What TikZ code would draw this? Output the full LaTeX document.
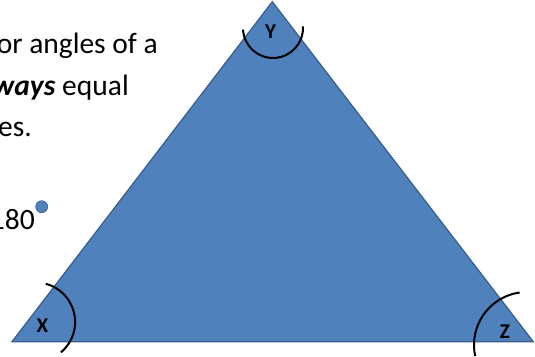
\documentclass[tikz,border=0pt]{standalone}
\usepackage{fontspec}
\setmainfont{Carlito}
\definecolor{triFill}{HTML}{4F81BD}
\definecolor{triEdge}{HTML}{385D8A}
\begin{document}
\begin{tikzpicture}[x=1pt,y=1pt,
  bodytext/.style={anchor=base east, inner sep=0pt, font=\fontsize{29.5}{36}\selectfont, text=black},
  anglelabel/.style={anchor=center, inner sep=0pt, font=\fontsize{21}{25}\selectfont\bfseries, text=black},
  anglearc/.style={draw=black, line width=2pt},
  tri/.style={fill=triFill, draw=triEdge, line width=1.2pt, line join=miter}]
\useasboundingbox (0,0) rectangle (535,356);
\clip (0,0) rectangle (535,356);
% text
\node[bodytext] (t1) at (158,302.7) {or angles of a};
\node[bodytext] (t2) at (129,260.5) {\textbf{\textit{ways}} equal};
\node[bodytext] (t3) at (32,219) {es.};
\node[bodytext] (t4) at (35,126) {180};
\node[circle, minimum size=12pt, inner sep=0pt, fill=triFill, draw=triEdge, line width=0.6pt] (deg) at (41.7,149.3) {};
% triangle
\coordinate (A) at (272.3,354.3);
\coordinate (B) at (12,14.3);
\coordinate (C) at (533.3,14.3);
\draw[tri] (A) -- (B) -- (C) -- cycle;
% angle arcs
\coordinate (xc) at (35.5,34);
\coordinate (yc) at (273,328);
\coordinate (zc) at (527,11);
\draw[anglearc] ([shift={(75:39.6)}]xc) arc[start angle=75, end angle=-50, radius=39.6];
\draw[anglearc] ([shift={(183:30)}]yc) arc[start angle=183, end angle=363, radius=30];
\draw[anglearc] ([shift={(98:53)}]zc) arc[start angle=98, end angle=192, radius=53];
% labels
\node[anglelabel] (lx) at (42.5,30) {X};
\node[anglelabel] (ly) at (270.5,324) {Y};
\node[anglelabel] (lz) at (505,24.3) {Z};
\end{tikzpicture}
\end{document}
